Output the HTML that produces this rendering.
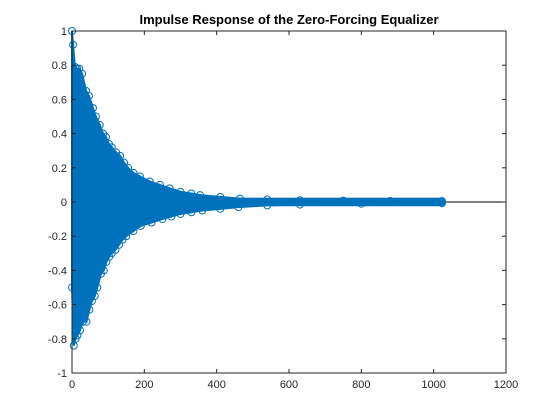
<!DOCTYPE html>
<html><head><meta charset="utf-8"><style>
html,body{margin:0;padding:0;background:#fff;}
svg{display:block;font-family:"Liberation Sans",Arial,sans-serif;}
</style></head><body>
<svg id="chart" width="560" height="420" viewBox="0 0 560 420" xmlns="http://www.w3.org/2000/svg">
<rect x="0" y="0" width="560" height="420" fill="#fff"/>
<text x="289" y="24" text-anchor="middle" font-size="13" font-weight="bold" fill="#000">Impulse Response of the Zero-Forcing Equalizer</text>
<g id="plot"></g>
</svg>
<script>
const xTicks=[0,200,400,600,800,1000,1200];
const yTicks=[-1,-0.8,-0.6,-0.4,-0.2,0,0.2,0.4,0.6,0.8,1];
const yTickLabels=["-1","-0.8","-0.6","-0.4","-0.2","0","0.2","0.4","0.6","0.8","1"];
const upperN=[0,3,8,14,20,28,39,47,58,66,77,86,94,102,110,122,133,144,155,170,188,215,243,270,300,330,354,410,464,540,630,750,880,1023];
const upperV=[1.0,0.92,0.79,0.78,0.78,0.75,0.65,0.62,0.55,0.5,0.45,0.4,0.38,0.34,0.32,0.29,0.27,0.23,0.2,0.17,0.15,0.12,0.1,0.08,0.06,0.05,0.04,0.03,0.02,0.015,0.01,0.008,0.006,0.005];
const lowerN=[0,5,10,15,22,30,40,48,55,63,70,80,88,95,103,110,120,130,140,150,170,190,220,250,275,300,330,360,410,460,540,630,800,1023];
const lowerV=[-0.5,-0.84,-0.8,-0.78,-0.75,-0.7,-0.7,-0.63,-0.58,-0.55,-0.5,-0.42,-0.4,-0.35,-0.32,-0.3,-0.28,-0.25,-0.22,-0.2,-0.17,-0.14,-0.12,-0.1,-0.085,-0.07,-0.06,-0.05,-0.04,-0.03,-0.02,-0.015,-0.01,-0.007];
const NS='http://www.w3.org/2000/svg';
const L=72,R=506,T=31,B=373;
const xs=v=>L+(v/1200)*(R-L);
const ys=v=>B-((v+1)/2)*(B-T);
const g=document.getElementById('plot');
function mk(tag,attrs){const e=document.createElementNS(NS,tag);for(const k in attrs)e.setAttribute(k,attrs[k]);g.appendChild(e);return e;}
const blue='#0072BD';
let bl=mk('line',{x1:L,x2:R,y1:ys(0),y2:ys(0),stroke:'#000','stroke-width':1});


let pts=[];
for(let i=0;i<upperN.length;i++)pts.push(xs(upperN[i])+','+ys(upperV[i]));
for(let i=lowerN.length-1;i>=0;i--)pts.push(xs(lowerN[i])+','+ys(lowerV[i]));
let band=mk('polygon',{points:pts.join(' '),fill:blue,stroke:blue,'stroke-width':2});


function stems(N,V,name){
  for(let i=0;i<N.length;i++){
    let ln=mk('line',{x1:xs(N[i]),x2:xs(N[i]),y1:ys(0),y2:ys(V[i]),stroke:blue,'stroke-width':1});
    
    
    let c=mk('circle',{cx:xs(N[i]),cy:ys(V[i]),r:3.5,fill:'none',stroke:blue,'stroke-width':1});
    
    
  }
}
stems(upperN,upperV,'upper-peak');
stems(lowerN,lowerV,'lower-peak');
for(let n=200;n<=1023;n+=3){
  let c=mk('circle',{cx:xs(n),cy:ys(0),r:3.5,fill:'none',stroke:blue,'stroke-width':1.5});
  
  
}
let box=mk('rect',{x:L,y:T,width:R-L,height:B-T,fill:'none',stroke:'#262626','stroke-width':1});


xTicks.forEach(v=>{
  let x=xs(v);
  let t1=mk('line',{x1:x,x2:x,y1:B,y2:B-4,stroke:'#262626'});
  
  
  let t2=mk('line',{x1:x,x2:x,y1:T,y2:T+4,stroke:'#262626'});
  
  
  let tx=mk('text',{x:x,y:B+15,'text-anchor':'middle','font-size':11,fill:'#262626'});
  tx.textContent=String(v);
  
  
});
yTicks.forEach((v,i)=>{
  let y=ys(v);
  let t1=mk('line',{x1:L,x2:L+4,y1:y,y2:y,stroke:'#262626'});
  
  
  let t2=mk('line',{x1:R,x2:R-4,y1:y,y2:y,stroke:'#262626'});
  
  
  let tx=mk('text',{x:L-5,y:y+4,'text-anchor':'end','font-size':11,fill:'#262626'});
  tx.textContent=yTickLabels[i];
  
  
});
</script>
</body></html>
